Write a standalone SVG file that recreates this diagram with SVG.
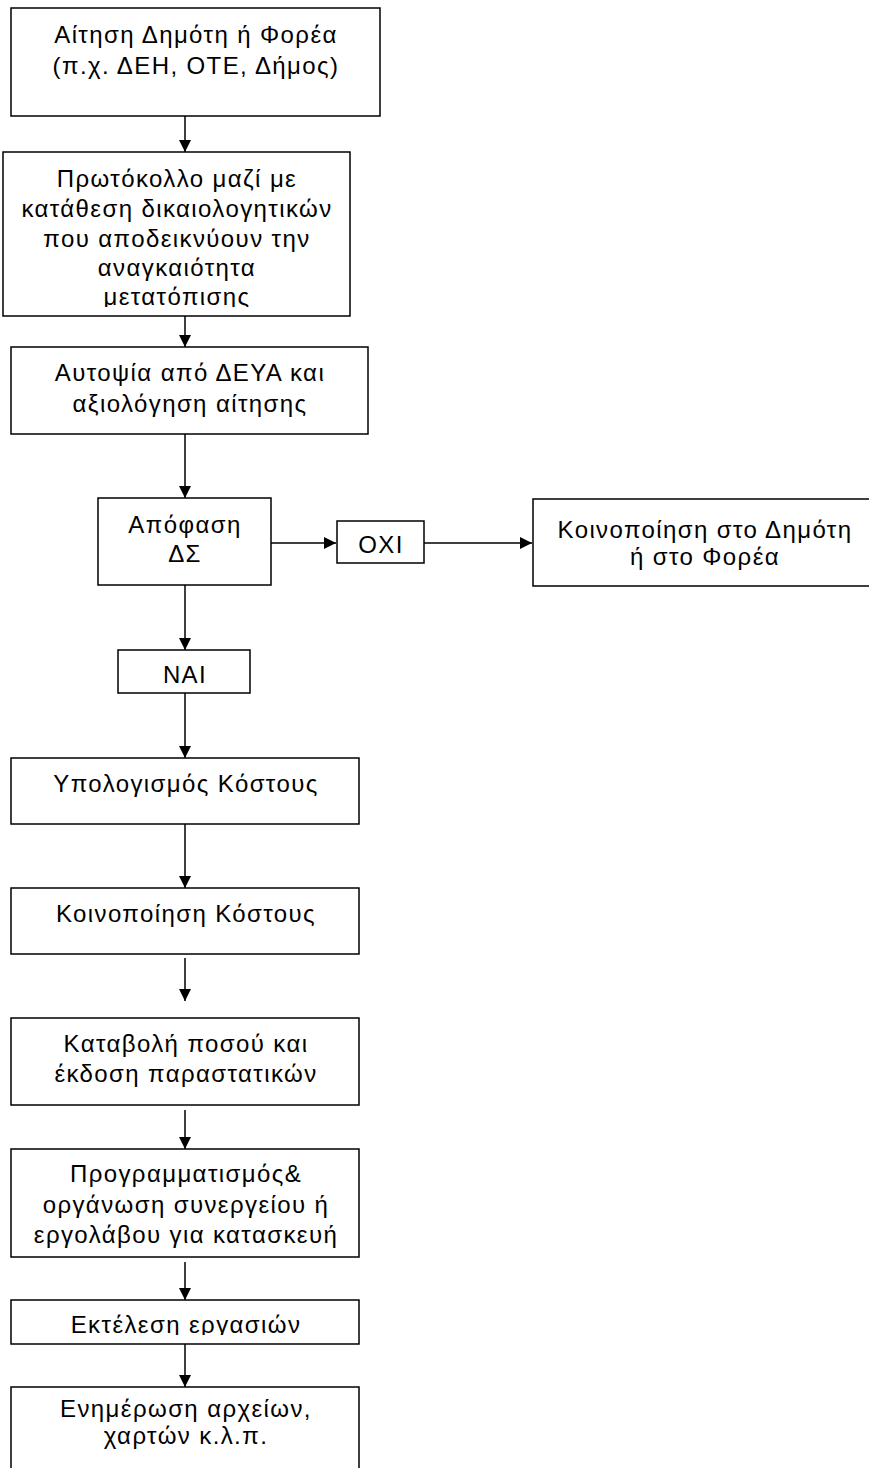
<svg xmlns="http://www.w3.org/2000/svg" width="869" height="1468" viewBox="0 0 869 1468">
<style>
.box{fill:#fff;stroke:#000;stroke-width:1.5}
.t{font-family:"Liberation Sans",Arial,sans-serif;font-size:24px;letter-spacing:1.4px;fill:#000;text-anchor:middle}
.c{stroke:#000;stroke-width:1.5;fill:none}
</style>
<defs>
<marker id="ah" viewBox="0 0 12 12" refX="12" refY="6" markerWidth="12" markerHeight="12" markerUnits="userSpaceOnUse" orient="auto">
<path d="M0,0 L12,6 L0,12 Z" fill="#000"/>
</marker>
<clipPath id="clip2"><rect x="0" y="150" width="400" height="157"/></clipPath>
<clipPath id="clip9"><rect x="0" y="1300" width="400" height="35"/></clipPath>
</defs>
<rect width="869" height="1468" fill="#fff"/>
<g id="connectors">
<line class="c" x1="185" y1="116" x2="185" y2="152" marker-end="url(#ah)"/>
<line class="c" x1="185" y1="316" x2="185" y2="347" marker-end="url(#ah)"/>
<line class="c" x1="185" y1="434" x2="185" y2="498" marker-end="url(#ah)"/>
<line class="c" x1="271" y1="543" x2="336" y2="543" marker-end="url(#ah)"/>
<line class="c" x1="424" y1="543" x2="532" y2="543" marker-end="url(#ah)"/>
<line class="c" x1="185" y1="585" x2="185" y2="650" marker-end="url(#ah)"/>
<line class="c" x1="185" y1="693" x2="185" y2="758" marker-end="url(#ah)"/>
<line class="c" x1="185" y1="824" x2="185" y2="888" marker-end="url(#ah)"/>
<line class="c" x1="185" y1="958" x2="185" y2="1001" marker-end="url(#ah)"/>
<line class="c" x1="185" y1="1110" x2="185" y2="1149" marker-end="url(#ah)"/>
<line class="c" x1="185" y1="1262" x2="185" y2="1300" marker-end="url(#ah)"/>
<line class="c" x1="185" y1="1344" x2="185" y2="1387" marker-end="url(#ah)"/>
</g>
<g id="n1">
<rect class="box" x="11" y="8" width="369" height="108"/>
<text class="t" x="196" y="43">Αίτηση Δημότη ή Φορέα</text>
<text class="t" x="196" y="74">(π.χ. ΔΕΗ, ΟΤΕ, Δήμος)</text>
</g>
<g id="n2">
<rect class="box" x="3" y="152" width="347" height="164"/>
<g clip-path="url(#clip2)">
<text class="t" x="177" y="187">Πρωτόκολλο μαζί με</text>
<text class="t" x="177" y="217">κατάθεση δικαιολογητικών</text>
<text class="t" x="177" y="247">που αποδεικνύουν την</text>
<text class="t" x="177" y="276">αναγκαιότητα</text>
<text class="t" x="177" y="305">μετατόπισης</text>
</g>
</g>
<g id="n3">
<rect class="box" x="11" y="347" width="357" height="87"/>
<text class="t" x="190" y="381">Αυτοψία από ΔΕΥΑ και</text>
<text class="t" x="190" y="412">αξιολόγηση αίτησης</text>
</g>
<g id="n4">
<rect class="box" x="98" y="498" width="173" height="87"/>
<text class="t" x="185" y="533">Απόφαση</text>
<text class="t" x="185" y="562">ΔΣ</text>
</g>
<g id="n5">
<rect class="box" x="337" y="521" width="87" height="42"/>
<text class="t" x="381" y="553">ΟΧΙ</text>
</g>
<g id="n6">
<rect class="box" x="533" y="499" width="343" height="87"/>
<text class="t" x="705" y="538">Κοινοποίηση στο Δημότη</text>
<text class="t" x="705" y="565">ή στο Φορέα</text>
</g>
<g id="n7">
<rect class="box" x="118" y="650" width="132" height="43"/>
<text class="t" x="185" y="683">ΝΑΙ</text>
</g>
<g id="n8">
<rect class="box" x="11" y="758" width="348" height="66"/>
<text class="t" x="186" y="792">Υπολογισμός Κόστους</text>
</g>
<g id="n9">
<rect class="box" x="11" y="888" width="348" height="66"/>
<text class="t" x="186" y="922">Κοινοποίηση Κόστους</text>
</g>
<g id="n10">
<rect class="box" x="11" y="1018" width="348" height="87"/>
<text class="t" x="186" y="1052">Καταβολή ποσού και</text>
<text class="t" x="186" y="1082">έκδοση παραστατικών</text>
</g>
<g id="n11">
<rect class="box" x="11" y="1149" width="348" height="108"/>
<text class="t" x="186" y="1182">Προγραμματισμός&amp;</text>
<text class="t" x="186" y="1213">οργάνωση συνεργείου ή</text>
<text class="t" x="186" y="1243">εργολάβου για κατασκευή</text>
</g>
<g id="n12">
<rect class="box" x="11" y="1300" width="348" height="44"/>
<text class="t" x="186" y="1333" clip-path="url(#clip9)">Εκτέλεση εργασιών</text>
</g>
<g id="n13">
<rect class="box" x="11" y="1387" width="348" height="100"/>
<text class="t" x="186" y="1417">Ενημέρωση αρχείων,</text>
<text class="t" x="186" y="1444">χαρτών κ.λ.π.</text>
</g>
</svg>
